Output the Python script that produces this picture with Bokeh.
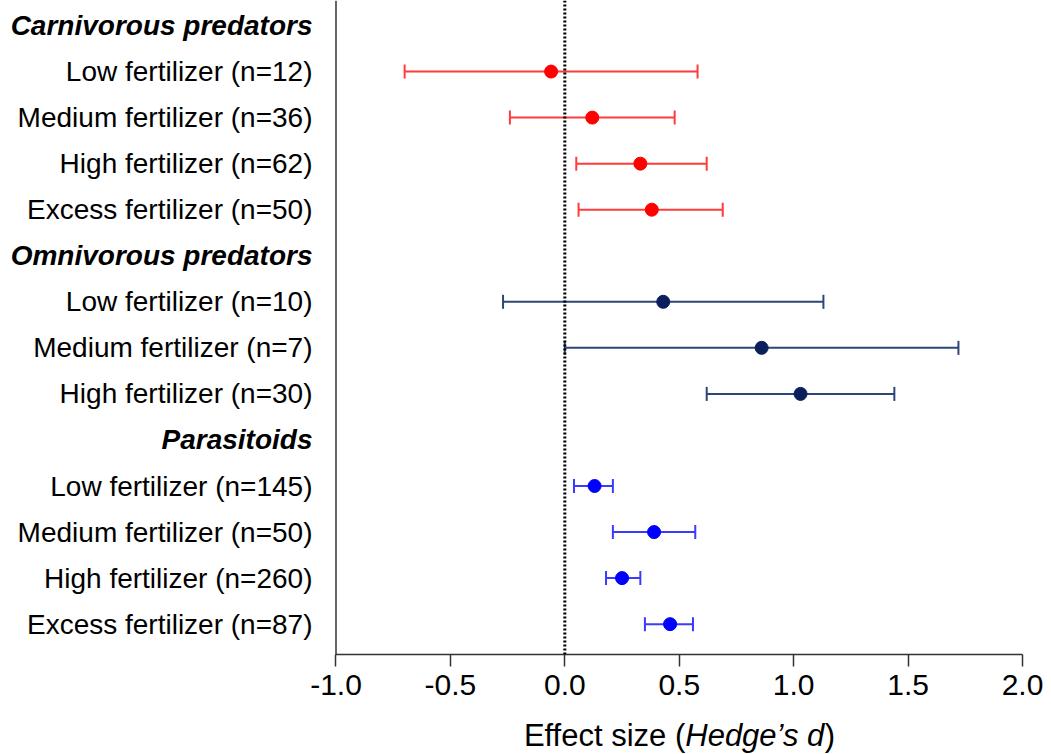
from bokeh.plotting import figure
from bokeh.layouts import column
from bokeh.models import (ColumnDataSource, Range1d, FixedTicker, Whisker, TeeHead, Span)
from bokeh.core.properties import value
from bokeh.embed import file_html
from bokeh.resources import INLINE

# ---------------- data ----------------
group_names = ["Carnivorous predators", "Omnivorous predators", "Parasitoids"]

carn_labels = ["Low fertilizer (n=12)", "Medium fertilizer (n=36)",
               "High fertilizer (n=62)", "Excess fertilizer (n=50)"]
carn_mean = [-0.06, 0.12, 0.33, 0.38]
carn_lower = [-0.70, -0.24, 0.05, 0.06]
carn_upper = [0.58, 0.48, 0.62, 0.69]

omni_labels = ["Low fertilizer (n=10)", "Medium fertilizer (n=7)",
               "High fertilizer (n=30)"]
omni_mean = [0.43, 0.86, 1.03]
omni_lower = [-0.27, 0.00, 0.62]
omni_upper = [1.13, 1.72, 1.44]

para_labels = ["Low fertilizer (n=145)", "Medium fertilizer (n=50)",
               "High fertilizer (n=260)", "Excess fertilizer (n=87)"]
para_mean = [0.13, 0.39, 0.25, 0.46]
para_lower = [0.04, 0.21, 0.18, 0.35]
para_upper = [0.21, 0.57, 0.33, 0.56]

x_ticks = [-1.0, -0.5, 0.0, 0.5, 1.0, 1.5, 2.0]
x_tick_labels = ["-1.0", "-0.5", "0.0", "0.5", "1.0", "1.5", "2.0"]
x_title_parts = ["Effect size (", "Hedge\u2019s d", ")"]

point_colors = ["#FF0000", "#0A1F5C", "#0000FF"]
line_colors = ["#FF3B3B", "#2E4677", "#3B3BFF"]

groups = [
    (carn_labels, carn_mean, carn_lower, carn_upper),
    (omni_labels, omni_mean, omni_lower, omni_upper),
    (para_labels, para_mean, para_lower, para_upper),
]

X_MIN, X_MAX = -1.0, 2.0
PX_PER_UNIT = 228.7
LEFT_PX = 335.3           # pixel position of the left axis
ROW_PX = 46.05
FIRST_ROW_PX = 25.0
AXIS_PX = 654.0
FONT = "Liberation Sans"

# rows (row 0 at top)
header_rows = []
item_rows, item_text = [], []
sources = []
row = 0
for (labels, mean, lower, upper) in groups:
    header_rows.append(row)
    row += 1
    ys = list(range(row, row + len(labels)))
    item_rows += ys
    item_text += labels
    sources.append(ColumnDataSource(dict(y=ys, mean=mean, lower=lower, upper=upper)))
    row += len(labels)

fig_w = 1048
right_border = 26
x_start = X_MIN - LEFT_PX / PX_PER_UNIT
x_range = Range1d(x_start, X_MAX)
y_top = -FIRST_ROW_PX / ROW_PX
y_bottom = (AXIS_PX - FIRST_ROW_PX) / ROW_PX
main_h = 710

p = figure(width=fig_w, height=main_h, output_backend="svg", toolbar_location=None,
           x_range=x_range, y_range=Range1d(y_bottom, y_top), y_axis_location=None,
           min_border_left=0, min_border_right=right_border, min_border_top=0,
           min_border_bottom=main_h - int(AXIS_PX))
p.outline_line_color = None
p.xgrid.visible = False
p.ygrid.visible = False

# left axis line
p.add_layout(Span(location=X_MIN, dimension="height", line_color="#333333", line_width=1.5))
# zero reference line (dotted)
p.add_layout(Span(location=0, dimension="height", line_color="black",
                  line_width=3, line_dash="2 2", line_cap="butt"))

for src, pc, lc in zip(sources, point_colors, line_colors):
    w = Whisker(source=src, base="y", lower="lower", upper="upper", dimension="width",
                line_color=lc, line_width=2,
                lower_head=TeeHead(size=14, line_color=lc, line_width=2),
                upper_head=TeeHead(size=14, line_color=lc, line_width=2))
    p.add_layout(w)
    p.scatter(x="mean", y="y", source=src, size=13, fill_color=pc, line_color=pc,
              marker="circle")

# category labels (left of the axis)
lab_src = ColumnDataSource(dict(x=[X_MIN] * len(item_rows), y=item_rows, text=item_text))
p.text(x="x", y="y", text="text", source=lab_src, x_offset=-23.5,
       text_align="right", text_baseline="middle", text_font=value(FONT),
       text_font_size="28px", text_color="black")
hdr_src = ColumnDataSource(dict(x=[X_MIN] * len(header_rows), y=header_rows, text=group_names))
p.text(x="x", y="y", text="text", source=hdr_src, x_offset=-23.5,
       text_align="right", text_baseline="middle", text_font=value(FONT),
       text_font_size="28px", text_font_style="bold italic", text_color="black")

# x axis
xa = p.xaxis[0]
xa.bounds = (X_MIN, X_MAX)
xa.ticker = FixedTicker(ticks=x_ticks)
xa.major_label_overrides = {t: s for t, s in zip(x_ticks, x_tick_labels)}
xa.minor_tick_line_color = None
xa.major_tick_in = 0
xa.major_tick_out = 12
xa.major_tick_line_width = 1.5
xa.major_tick_line_color = "#333333"
xa.axis_line_width = 1.5
xa.axis_line_color = "#333333"
xa.major_label_text_font = FONT
xa.major_label_text_font_size = "30px"
xa.major_label_text_color = "black"
xa.major_label_standoff = 8

# x-axis title (mixed upright / italic) in a strip below
title_h = 754 - main_h
t = figure(width=fig_w, height=title_h, output_backend="svg", toolbar_location=None,
           x_range=x_range, y_range=Range1d(0, title_h), x_axis_location=None,
           y_axis_location=None, min_border_left=0, min_border_right=right_border,
           min_border_top=0, min_border_bottom=0)
t.outline_line_color = None
t.xgrid.visible = False
t.ygrid.visible = False
xc = (X_MIN + X_MAX) / 2
base_y = 19
common = dict(text_baseline="alphabetic", text_font=value(FONT), text_font_size="31px",
              text_color="black")
t.text(x=[xc], y=[base_y], text=[x_title_parts[0]], x_offset=6, text_align="right", **common)
t.text(x=[xc], y=[base_y], text=[x_title_parts[1]], x_offset=6, text_align="left",
       text_font_style="italic", **common)
t.text(x=[xc], y=[base_y], text=[x_title_parts[2]], x_offset=145.6, text_align="left", **common)

layout = column(p, t, spacing=0)
open("out.html", "w").write(file_html(layout, INLINE))
